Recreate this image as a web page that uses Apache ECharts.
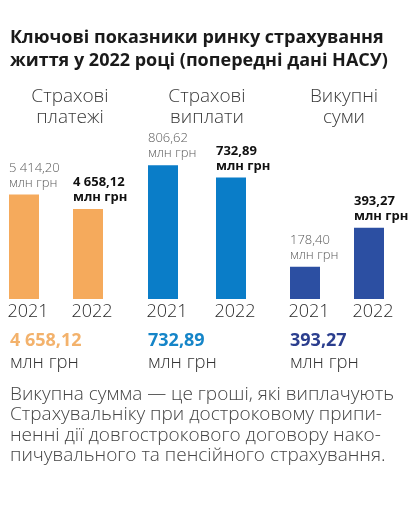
<!DOCTYPE html>
<html>
<head>
<meta charset="utf-8">
<script src="https://cdn.jsdelivr.net/npm/echarts@6/dist/echarts.min.js"></script>
<style>
  html, body { margin: 0; padding: 0; background: #fff; }
  #chart { width: 416px; height: 512px; }
</style>
</head>
<body>
<div id="chart"></div>
<script>
// дані
const years = ['2021', '2022'];
const panelNames = ['Страхові\nплатежі', 'Страхові\nвиплати', 'Викупні\nсуми'];
const payments = [5414.20, 4658.12];
const claims = [806.62, 732.89];
const surrender = [178.40, 393.27];
const unit = 'млн грн';

const seriesData = [payments, claims, surrender];
const colors = ['#F5AA5C', '#0A7DC8', '#2C4FA2'];
const bigColors = ['#F3B26C', '#1585C8', '#2B3E8E'];
const axisMax = [10300, 1200, 1100];

// розміщення панелей
const grids = [
  { left: -8, width: 128 },
  { left: 129, width: 136 },
  { left: 273, width: 128 }
];
const panelCenter = [70, 207, 344];
const bigLeft = [10, 148, 290];

const FONT = '"Open Sans", "Noto Sans", sans-serif';

function fmt(v) {
  const parts = v.toFixed(2).split('.');
  const intPart = parts[0].replace(/\B(?=(\d{3})+(?!\d))/g, ' ');
  return intPart + ',' + parts[1];
}

const chart = echarts.init(document.getElementById('chart'));

const graphics = [];
panelNames.forEach((name, i) => {
  graphics.push({
    type: 'text',
    x: panelCenter[i],
    y: 86,
    style: {
      text: name,
      textAlign: 'center',
      fill: '#3a3a3a',
      font: '300 19px ' + FONT,
      lineHeight: 21
    }
  });
});

const titles = [
  {
    text: 'Ключові показники ринку страхування\nжиття у 2022 році (попередні дані НАСУ)',
    left: 10,
    top: 26,
    padding: 0,
    textStyle: {
      fontFamily: FONT,
      fontWeight: 'bold',
      fontSize: 18,
      lineHeight: 23,
      color: '#1a1a1a'
    }
  },
  {
    text: 'Викупна сумма — це гроші, які виплачують\nСтрахувальніку при достроковому припи-\nненні дії довгострокового договору нако-\nпичувального та пенсійного страхування.',
    left: 10,
    top: 384,
    padding: 0,
    textStyle: {
      fontFamily: FONT,
      fontWeight: 300,
      fontSize: 19,
      lineHeight: 20.5,
      color: '#444'
    }
  }
];

seriesData.forEach((vals, i) => {
  titles.push({
    text: '{v|' + fmt(vals[vals.length - 1]) + '}\n{u|' + unit + '}',
    left: bigLeft[i],
    top: 330,
    padding: 0,
    textStyle: {
      rich: {
        v: { fontFamily: FONT, fontWeight: 'bold', fontSize: 18, lineHeight: 22, color: bigColors[i] },
        u: { fontFamily: FONT, fontWeight: 300, fontSize: 18.5, lineHeight: 22, color: '#333' }
      }
    }
  });
});

const option = {
  animation: false,
  backgroundColor: '#fff',
  title: titles,
  graphic: graphics,
  grid: grids.map(g => ({
    left: g.left,
    width: g.width,
    top: 100,
    bottom: 213,
    outerBoundsMode: 'none'
  })),
  xAxis: grids.map((g, i) => ({
    type: 'category',
    gridIndex: i,
    data: years,
    axisLine: { show: false },
    axisTick: { show: false },
    axisLabel: {
      margin: 4,
      padding: [0, 0, 0, 8],
      fontFamily: FONT,
      fontWeight: 300,
      fontSize: 18,
      color: '#2a2a2a'
    }
  })),
  yAxis: grids.map((g, i) => ({
    type: 'value',
    gridIndex: i,
    min: 0,
    max: axisMax[i],
    show: false
  })),
  series: seriesData.map((vals, i) => ({
    type: 'bar',
    xAxisIndex: i,
    yAxisIndex: i,
    barWidth: 30,
    itemStyle: { color: colors[i] },
    data: vals.map((v, j) => ({
      value: v,
      label: {
        show: true,
        position: [0, -4],
        align: 'left',
        verticalAlign: 'bottom',
        formatter: p => fmt(p.value) + '\n' + unit,
        fontFamily: FONT,
        fontSize: 13,
        lineHeight: 15,
        fontWeight: j === vals.length - 1 ? 'bold' : 300,
        color: j === vals.length - 1 ? '#111' : '#5a5a5a'
      }
    }))
  }))
};

chart.setOption(option);
</script>
</body>
</html>
